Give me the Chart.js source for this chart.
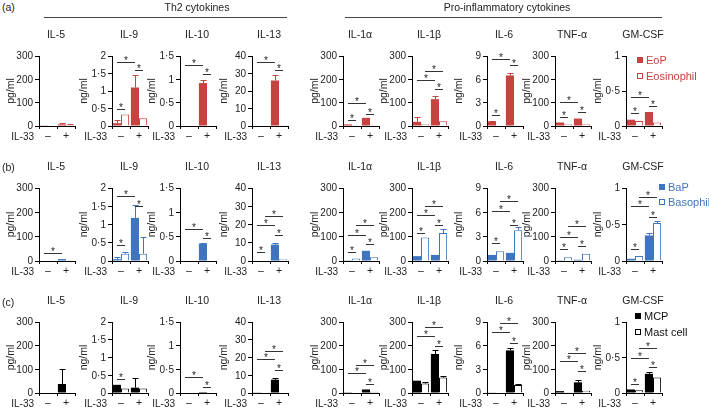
<!DOCTYPE html>
<html>
<head>
<meta charset="utf-8">
<script src="https://cdn.jsdelivr.net/npm/chart.js@4"></script>
<style>
  body { margin: 0; background: #fff; }
  #fig { position: relative; width: 709px; height: 408px; overflow: hidden; font-family: "Liberation Sans", Arial, sans-serif; color: #222; }
  #fig canvas { position: absolute; }
  .txt { position: absolute; font-size: 10.5px; white-space: nowrap; line-height: 12px; }
  .rule { position: absolute; height: 1px; background: #444; }
  .leg { position: absolute; font-size: 11px; white-space: nowrap; line-height: 12px; }
  .leg i { display: inline-block; width: 6px; height: 6px; margin-right: 3px; vertical-align: 1px; box-sizing: border-box; }
</style>
</head>
<body>
<div id="fig"></div>
<script>
// ---- data ----
const cytokines = ['IL-5', 'IL-9', 'IL-10', 'IL-13', 'IL-1α', 'IL-1β', 'IL-6', 'TNF-α', 'GM-CSF'];
const units = ['pg/ml', 'ng/ml', 'ng/ml', 'ng/ml', 'pg/ml', 'pg/ml', 'ng/ml', 'pg/ml', 'ng/ml'];
const yMax = [300, 2, 1.5, 40, 300, 300, 9, 300, 1];
const yStep = [100, 0.5, 0.5, 10, 100, 100, 3, 100, 0.5];
const il33 = ['–', '+'];

// (a) EoP / Eosinophil  — [IL-33 −, IL-33 +]
const eopMean = [[3, 7], [0.08, 1.1], [0.01, 0.92], [0.3, 26], [7, 35], [18, 115], [0.6, 6.5], [15, 32], [0.09, 0.2]];
const eopErr = [[0, 6], [0.1, 0.37], [0, 0.06], [0, 3], [0, 0], [22, 15], [0.05, 0.3], [0, 0], [0, 0]];
const eosMean = [[1, 4], [0.33, 0.22], [0, 0], [0, 0.2], [3, 3], [8, 20], [0.02, 0.02], [8, 8], [0.07, 0.05]];
const eosErr = [[0, 3], [0, 0], [0, 0], [0, 0], [0, 0], [0, 0], [0, 0], [0, 0], [0, 0]];
// significance bars: [bar a, bar b, height]; bars 0 = filled −, 1 = open −, 2 = filled +, 3 = open +
const sigA = [
  [],
  [[0, 1, 0.5], [0, 2, 1.83], [2, 3, 1.6]],
  [[0, 2, 1.31], [2, 3, 1.12]],
  [[0, 2, 36.5], [2, 3, 32]],
  [[0, 1, 25], [0, 2, 100], [2, 3, 52]],
  [[0, 2, 197], [1, 3, 237], [2, 3, 158]],
  [[0, 1, 1.4], [0, 2, 8.6], [2, 3, 7.8]],
  [[0, 1, 38], [0, 2, 102], [2, 3, 58]],
  [[0, 1, 0.18], [0, 2, 0.42], [2, 3, 0.29]]
];

// (b) BaP / Basophil
const bapMean = [[2, 8], [0.05, 1.18], [0.01, 0.36], [0.3, 9], [3, 42], [20, 25], [0.75, 1.0], [3, 5], [0.03, 0.35]];
const bapErr = [[0, 0], [0.07, 0.35], [0, 0.02], [0, 0.8], [0, 0], [0, 0], [0, 0], [0, 0], [0, 0.03]];
const basoMean = [[1, 3], [0.2, 0.2], [0, 0], [0.3, 1], [10, 15], [97, 115], [1.2, 3.8], [15, 30], [0.07, 0.52]];
const basoErr = [[0, 0], [0.05, 0.47], [0, 0], [0, 0], [0, 0], [0, 15], [0, 0.4], [0, 0], [0, 0.03]];
const sigB = [
  [[0, 2, 32]],
  [[0, 1, 0.44], [0, 2, 1.79], [2, 3, 1.5]],
  [[0, 2, 0.65], [2, 3, 0.47]],
  [[0, 1, 5], [0, 2, 20], [1, 3, 24.8], [2, 3, 14.3]],
  [[0, 1, 38], [0, 2, 108], [1, 3, 146], [2, 3, 70]],
  [[0, 1, 114], [0, 2, 190], [1, 3, 228], [2, 3, 146]],
  [[0, 1, 2.2], [0, 2, 6.2], [1, 3, 7.4], [2, 3, 4.5]],
  [[0, 1, 48], [0, 2, 100], [1, 3, 142], [2, 3, 62]],
  [[0, 1, 0.17], [0, 2, 0.75], [1, 3, 0.88], [2, 3, 0.6]]
];

// (c) MCP / Mast cell
const mcpMean = [[0, 38], [0.23, 0.15], [0, 0.02], [0.2, 7.5], [3, 15], [52, 165], [0.05, 5.4], [8, 45], [0.05, 0.27]];
const mcpErr = [[0, 65], [0, 0.28], [0, 0], [0, 0.8], [0, 0], [0, 15], [0, 0.3], [0, 12], [0, 0.02]];
const mastMean = [[0, 0], [0.13, 0.13], [0, 0.01], [0.1, 0.3], [2, 5], [40, 65], [0.05, 1.0], [3, 10], [0.04, 0.22]];
const mastErr = [[0, 0], [0, 0], [0, 0], [0, 0], [0, 0], [5, 8], [0, 0.1], [0, 0], [0, 0]];
const sigC = [
  [],
  [[0, 1, 0.4]],
  [[0, 2, 0.34], [2, 3, 0.13]],
  [[0, 2, 19.3], [1, 3, 23.5], [2, 3, 12.8]],
  [[0, 2, 85], [1, 3, 120], [2, 3, 40]],
  [[0, 2, 241], [1, 3, 280], [2, 3, 197]],
  [[0, 2, 7.7], [1, 3, 8.85], [2, 3, 6.3]],
  [[0, 2, 134], [1, 3, 169], [2, 3, 92]],
  [[0, 1, 0.13], [0, 2, 0.5], [1, 3, 0.64], [2, 3, 0.37]]
];

const rows = [
  { names: ['EoP', 'Eosinophil'], color: '#C8423F', m0: eopMean, e0: eopErr, m1: eosMean, e1: eosErr, sig: sigA },
  { names: ['BaP', 'Basophil'], color: '#3F75BF', m0: bapMean, e0: bapErr, m1: basoMean, e1: basoErr, sig: sigB },
  { names: ['MCP', 'Mast cell'], color: '#000000', m0: mcpMean, e0: mcpErr, m1: mastMean, e1: mastErr, sig: sigC }
];

// ---- layout ----
const rowTop = [56, 188, 322];
const rowH = [70, 73, 71];
const axisX = [39, 112, 180, 252, 343, 412, 487, 555, 626];
const plotW = 36;
const padTop = 30, axisLeftW = 40, padRight = 6, xAxisH = 18;
const FONT = '"Liberation Sans", Arial, sans-serif';

Chart.defaults.font.family = FONT;
Chart.defaults.color = '#222';

const fig = document.getElementById('fig');

function addText(cls, html, left, top, extra) {
  const d = document.createElement('div');
  d.className = cls;
  d.innerHTML = html;
  d.style.left = left + 'px';
  d.style.top = top + 'px';
  if (extra) Object.assign(d.style, extra);
  fig.appendChild(d);
  return d;
}

// decimal point shown as a middle dot, as in the journal style
function fmt(v) {
  return (Math.round(Number(v) * 100) / 100).toString().split('.').join('·');
}

const panelPlugin = {
  id: 'panel',
  afterDatasetsDraw(chart) {
    const p = chart.options.plugins.panel;
    const { ctx, scales: { y } } = chart;
    ctx.save();
    ctx.lineWidth = 1;
    // error bars (upper only)
    [p.err0, p.err1].forEach((errs, ds) => {
      chart.getDatasetMeta(ds).data.forEach((bar, i) => {
        const e = errs[i];
        if (!e) return;
        const v = chart.data.datasets[ds].data[i];
        const x = Math.round(bar.x) + 0.5;
        const y0 = y.getPixelForValue(v), y1 = Math.round(y.getPixelForValue(v + e)) + 0.5;
        ctx.strokeStyle = p.color;
        ctx.beginPath();
        ctx.moveTo(x, y0); ctx.lineTo(x, y1);
        ctx.moveTo(x - 3, y1); ctx.lineTo(x + 3, y1);
        ctx.stroke();
      });
    });
    // significance bars
    const cx = k => chart.getDatasetMeta(k % 2).data[Math.floor(k / 2)].x;
    ctx.strokeStyle = '#333';
    ctx.fillStyle = '#222';
    ctx.font = '10px ' + FONT;
    ctx.textAlign = 'center';
    ctx.textBaseline = 'alphabetic';
    p.sig.forEach(([a, b, h]) => {
      const x0 = cx(a), x1 = cx(b);
      const yy = Math.round(y.getPixelForValue(h)) + 0.5;
      ctx.beginPath(); ctx.moveTo(x0, yy); ctx.lineTo(x1, yy); ctx.stroke();
      ctx.fillText('*', (x0 + x1) / 2, yy + 1);
    });
    ctx.restore();
  },
  afterDraw(chart) {
    const p = chart.options.plugins.panel;
    const { ctx, chartArea: a, scales: { y } } = chart;
    ctx.save();
    ctx.fillStyle = '#222';
    ctx.textBaseline = 'middle';
    // y tick labels
    ctx.textAlign = 'right';
    ctx.font = '10px ' + FONT;
    y.ticks.forEach(t => {
      ctx.fillText(fmt(t.value), a.left - 6, y.getPixelForValue(t.value) + 0.5);
    });
    // panel title
    ctx.font = '10.5px ' + FONT;
    ctx.textAlign = 'center';
    ctx.fillText(p.title, (a.left + a.right) / 2 - 1, a.top - 21);
    // IL-33 row label
    ctx.textAlign = 'right';
    ctx.font = '10px ' + FONT;
    ctx.fillText('IL-33', a.left - 5, a.bottom + 11);
    // unit
    ctx.translate(a.left - 28, (a.top + a.bottom) / 2);
    ctx.rotate(-Math.PI / 2);
    ctx.textAlign = 'center';
    ctx.font = '10.5px ' + FONT;
    ctx.fillText(p.unit, 0, 0);
    ctx.restore();
  }
};

rows.forEach((row, r) => {
  cytokines.forEach((name, c) => {
    const cv = document.createElement('canvas');
    const w = axisLeftW + plotW + padRight;
    const h = padTop + rowH[r] + xAxisH;
    cv.width = w; cv.height = h;
    cv.style.width = w + 'px'; cv.style.height = h + 'px';
    cv.style.left = (axisX[c] - axisLeftW) + 'px';
    cv.style.top = (rowTop[r] - padTop) + 'px';
    fig.appendChild(cv);

    new Chart(cv, {
      type: 'bar',
      data: {
        labels: il33,
        datasets: [
          { label: row.names[0], data: row.m0[c], backgroundColor: row.color, borderColor: row.color, borderWidth: 0 },
          { label: row.names[1], data: row.m1[c], backgroundColor: '#ffffff', borderColor: row.color, borderWidth: 1 }
        ]
      },
      options: {
        responsive: false,
        animation: false,
        devicePixelRatio: 1,
        layout: { padding: { top: padTop, right: padRight, left: 0, bottom: 0 } },
        datasets: { bar: { categoryPercentage: 0.9, barPercentage: 1 } },
        plugins: {
          legend: { display: false },
          tooltip: { enabled: false },
          panel: { title: name, unit: units[c], color: row.color, err0: row.e0[c], err1: row.e1[c], sig: row.sig[c] }
        },
        scales: {
          x: {
            grid: { display: true, drawOnChartArea: false, tickLength: 3, color: '#000', offset: true },
            border: { color: '#000', width: 1 },
            ticks: { padding: 1, font: { size: 10.5 }, color: '#222' },
            afterFit: s => { s.height = xAxisH; }
          },
          y: {
            min: 0, max: yMax[c],
            grid: { display: true, drawOnChartArea: false, tickLength: 4, color: '#000' },
            border: { color: '#000', width: 1 },
            ticks: { display: false, stepSize: yStep[c], autoSkip: false },
            afterFit: s => { s.width = axisLeftW; }
          }
        }
      },
      plugins: [panelPlugin]
    });
  });
});

// ---- headers ----
addText('txt', '(a)', 2, 1);
addText('txt', '(b)', 2, 161);
addText('txt', '(c)', 2, 296);
addText('txt', 'Th2 cytokines', 197, 1, { transform: 'translateX(-50%)' });
addText('txt', 'Pro-inflammatory cytokines', 507, 1, { transform: 'translateX(-50%)' });
const r1 = addText('rule', '', 44, 17); r1.style.width = '243px';
const r2 = addText('rule', '', 345, 17); r2.style.width = '317px';

// ---- legends ----
const legendPos = [
  { x: 637, y: [54, 70] },
  { x: 659, y: [181, 196] },
  { x: 635, y: [310, 326] }
];
rows.forEach((row, r) => {
  const lp = legendPos[r];
  row.names.forEach((n, k) => {
    const sq = k === 0
      ? `<i style="background:${row.color}"></i>`
      : `<i style="border:1px solid ${row.color};background:#fff"></i>`;
    addText('leg', sq + n, lp.x, lp.y[k], { color: row.color === '#000000' ? '#111' : row.color });
  });
});
</script>
</body>
</html>
